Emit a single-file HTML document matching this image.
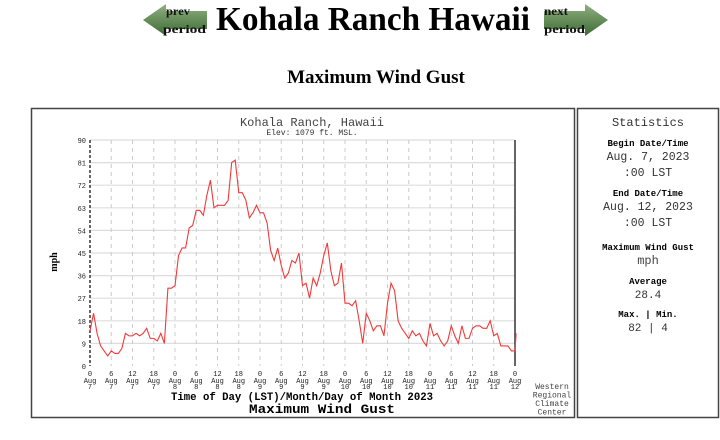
<!DOCTYPE html>
<html><head><meta charset="utf-8"><style>
html,body{margin:0;padding:0;background:#fff;width:720px;height:440px;overflow:hidden}
</style></head><body>
<svg width="720" height="440" viewBox="0 0 720 440" xmlns="http://www.w3.org/2000/svg">
<defs><linearGradient id="ag" x1="0" y1="0" x2="0" y2="1"><stop offset="0" stop-color="#8fb080"/><stop offset="1" stop-color="#3d6a35"/></linearGradient></defs>
<!-- arrows -->
<polygon points="143,20 166,4 166,11 207,11 207,29 166,29 166,36" fill="url(#ag)"/>
<text x="166" y="15" font-family="Liberation Serif,serif" font-size="12" font-weight="bold" fill="#111" textLength="24" lengthAdjust="spacingAndGlyphs">prev</text>
<text x="163" y="33" font-family="Liberation Serif,serif" font-size="12" font-weight="bold" fill="#111" textLength="43" lengthAdjust="spacingAndGlyphs">period</text>
<polygon points="608,20 585,4 585,11 544,11 544,29 585,29 585,36" fill="url(#ag)"/>
<text x="544" y="15" font-family="Liberation Serif,serif" font-size="12" font-weight="bold" fill="#111" textLength="24" lengthAdjust="spacingAndGlyphs">next</text>
<text x="544" y="33" font-family="Liberation Serif,serif" font-size="12" font-weight="bold" fill="#111" textLength="41" lengthAdjust="spacingAndGlyphs">period</text>
<text x="373" y="30" text-anchor="middle" font-family="Liberation Serif,serif" font-size="34" font-weight="bold" textLength="314" lengthAdjust="spacingAndGlyphs">Kohala Ranch Hawaii</text>
<text x="376" y="83" text-anchor="middle" font-family="Liberation Serif,serif" font-size="19" font-weight="bold">Maximum Wind Gust</text>
<!-- boxes -->
<rect x="31.5" y="108.5" width="543" height="309" fill="none" stroke="#444" stroke-width="1.5"/>
<rect x="577.5" y="108.5" width="141" height="309" fill="none" stroke="#444" stroke-width="1.5"/>
<!-- chart title -->
<text x="312" y="126" text-anchor="middle" font-family="Liberation Mono,monospace" font-size="12" fill="#444">Kohala Ranch, Hawaii</text>
<text x="312" y="135" text-anchor="middle" font-family="Liberation Mono,monospace" font-size="8" fill="#333">Elev: 1079 ft. MSL.</text>
<!-- grid -->
<g stroke="#ddd" stroke-width="1.2">
<line x1="90" x2="515" y1="140" y2="140"/><line x1="90" x2="515" y1="162.6" y2="162.6"/><line x1="90" x2="515" y1="185.2" y2="185.2"/><line x1="90" x2="515" y1="207.8" y2="207.8"/><line x1="90" x2="515" y1="230.4" y2="230.4"/><line x1="90" x2="515" y1="253" y2="253"/><line x1="90" x2="515" y1="275.6" y2="275.6"/><line x1="90" x2="515" y1="298.2" y2="298.2"/><line x1="90" x2="515" y1="320.8" y2="320.8"/><line x1="90" x2="515" y1="343.4" y2="343.4"/>
</g>
<g stroke="#ccc" stroke-width="1" stroke-dasharray="4,4">
<line x1="111.25" x2="111.25" y1="140" y2="366"/><line x1="132.5" x2="132.5" y1="140" y2="366"/><line x1="153.75" x2="153.75" y1="140" y2="366"/><line x1="175" x2="175" y1="140" y2="366"/><line x1="196.25" x2="196.25" y1="140" y2="366"/><line x1="217.5" x2="217.5" y1="140" y2="366"/><line x1="238.75" x2="238.75" y1="140" y2="366"/><line x1="260" x2="260" y1="140" y2="366"/><line x1="281.25" x2="281.25" y1="140" y2="366"/><line x1="302.5" x2="302.5" y1="140" y2="366"/><line x1="323.75" x2="323.75" y1="140" y2="366"/><line x1="345" x2="345" y1="140" y2="366"/><line x1="366.25" x2="366.25" y1="140" y2="366"/><line x1="387.5" x2="387.5" y1="140" y2="366"/><line x1="408.75" x2="408.75" y1="140" y2="366"/><line x1="430" x2="430" y1="140" y2="366"/><line x1="451.25" x2="451.25" y1="140" y2="366"/><line x1="472.5" x2="472.5" y1="140" y2="366"/><line x1="493.75" x2="493.75" y1="140" y2="366"/>
</g>
<line x1="90" x2="90" y1="140" y2="366" stroke="#333" stroke-width="1.5" stroke-dasharray="3,2"/>
<line x1="515" x2="515" y1="140" y2="366" stroke="#333" stroke-width="1.5"/>
<!-- y labels -->
<g font-family="Liberation Mono,monospace" font-size="7" fill="#222" text-anchor="end">
<text x="86" y="143">90</text><text x="86" y="165.6">81</text><text x="86" y="188.2">72</text><text x="86" y="210.8">63</text><text x="86" y="233.4">54</text><text x="86" y="256">45</text><text x="86" y="278.6">36</text><text x="86" y="301.2">27</text><text x="86" y="323.8">18</text><text x="86" y="346.4">9</text><text x="86" y="369">0</text>
</g>
<text transform="translate(57,262) rotate(-90)" text-anchor="middle" font-family="Liberation Serif,serif" font-size="10" font-weight="bold">mph</text>
<!-- x labels -->
<g font-family="Liberation Mono,monospace" font-size="7" fill="#222" text-anchor="middle">
<text x="90" y="376">0</text><text x="90" y="383">Aug</text><text x="90" y="389">7</text>
<text x="111.25" y="376">6</text><text x="111.25" y="383">Aug</text><text x="111.25" y="389">7</text>
<text x="132.5" y="376">12</text><text x="132.5" y="383">Aug</text><text x="132.5" y="389">7</text>
<text x="153.75" y="376">18</text><text x="153.75" y="383">Aug</text><text x="153.75" y="389">7</text>
<text x="175" y="376">0</text><text x="175" y="383">Aug</text><text x="175" y="389">8</text>
<text x="196.25" y="376">6</text><text x="196.25" y="383">Aug</text><text x="196.25" y="389">8</text>
<text x="217.5" y="376">12</text><text x="217.5" y="383">Aug</text><text x="217.5" y="389">8</text>
<text x="238.75" y="376">18</text><text x="238.75" y="383">Aug</text><text x="238.75" y="389">8</text>
<text x="260" y="376">0</text><text x="260" y="383">Aug</text><text x="260" y="389">9</text>
<text x="281.25" y="376">6</text><text x="281.25" y="383">Aug</text><text x="281.25" y="389">9</text>
<text x="302.5" y="376">12</text><text x="302.5" y="383">Aug</text><text x="302.5" y="389">9</text>
<text x="323.75" y="376">18</text><text x="323.75" y="383">Aug</text><text x="323.75" y="389">9</text>
<text x="345" y="376">0</text><text x="345" y="383">Aug</text><text x="345" y="389">10</text>
<text x="366.25" y="376">6</text><text x="366.25" y="383">Aug</text><text x="366.25" y="389">10</text>
<text x="387.5" y="376">12</text><text x="387.5" y="383">Aug</text><text x="387.5" y="389">10</text>
<text x="408.75" y="376">18</text><text x="408.75" y="383">Aug</text><text x="408.75" y="389">10</text>
<text x="430" y="376">0</text><text x="430" y="383">Aug</text><text x="430" y="389">11</text>
<text x="451.25" y="376">6</text><text x="451.25" y="383">Aug</text><text x="451.25" y="389">11</text>
<text x="472.5" y="376">12</text><text x="472.5" y="383">Aug</text><text x="472.5" y="389">11</text>
<text x="493.75" y="376">18</text><text x="493.75" y="383">Aug</text><text x="493.75" y="389">11</text>
<text x="515" y="376">0</text><text x="515" y="383">Aug</text><text x="515" y="389">12</text>
</g>
<text x="302" y="400" text-anchor="middle" font-family="Liberation Mono,monospace" font-size="11" font-weight="bold" textLength="262" lengthAdjust="spacingAndGlyphs">Time of Day (LST)/Month/Day of Month 2023</text>
<text x="322" y="413" text-anchor="middle" font-family="Liberation Mono,monospace" font-size="13" font-weight="bold" textLength="146" lengthAdjust="spacingAndGlyphs">Maximum Wind Gust</text>
<g font-family="Liberation Mono,monospace" font-size="8" fill="#444" text-anchor="middle">
<text x="552" y="389">Western</text><text x="552" y="397.5">Regional</text><text x="552" y="406">Climate</text><text x="552" y="414.5">Center</text>
</g>
<!-- data -->
<g transform="translate(90,366) scale(3.5417,-2.5111)">
<polyline fill="none" stroke="#f03a3a" stroke-width="1.1" vector-effect="non-scaling-stroke" points="0,14 1,21 2,13 3,8 4,6 5,4 6,6 7,5 8,5 9,7 10,13 11,12 12,12 13,13 14,12 15,13 16,15 17,11 18,11 19,10 20,13 21,9 22,31 23,31 24,32 25,44 26,47 27,47 28,55 29,56 30,62 31,62 32,60 33,68 34,74 35,63 36,64 37,64 38,64 39,66 40,81 41,82 42,69 43,69 44,66 45,59 46,61 47,64 48,61 49,61 50,57 51,46 52,42 53,47 54,40 55,35 56,37 57,42 58,41 59,45 60,32 61,33 62,27 63,35 64,32 65,37 66,44 67,49 68,38 69,32 70,33 71,41 72,25 73,25 74,24 75,26 76,18 77,9 78,21 79,18 80,14 81,16 82,16 83,12 84,25 85,33 86,30 87,18 88,15 89,13 90,11 91,14 92,12 93,13 94,10 95,8 96,17 97,12 98,13 99,10 100,8 101,10 102,16 103,12 104,9 105,16 106,11 107,11 108,15 109,16 110,16 111,15 112,15 113,18 114,12 115,13 116,8 117,8 118,8 119,6 120,6 120.3,13"/>
</g>
<!-- statistics -->
<g font-family="Liberation Mono,monospace" text-anchor="middle">
<text x="648" y="126" font-size="12" fill="#333">Statistics</text>
<text x="648" y="146" font-size="9" font-weight="bold">Begin Date/Time</text>
<text x="648" y="160" font-size="11.5" fill="#333">Aug. 7, 2023</text>
<text x="648" y="176" font-size="11.5" fill="#333">:00 LST</text>
<text x="648" y="196" font-size="9" font-weight="bold">End Date/Time</text>
<text x="648" y="210" font-size="11.5" fill="#333">Aug. 12, 2023</text>
<text x="648" y="226" font-size="11.5" fill="#333">:00 LST</text>
<text x="648" y="250" font-size="9" font-weight="bold">Maximum Wind Gust</text>
<text x="648" y="264" font-size="12" fill="#444">mph</text>
<text x="648" y="284" font-size="9" font-weight="bold">Average</text>
<text x="648" y="298" font-size="11" fill="#333">28.4</text>
<text x="648" y="317" font-size="9" font-weight="bold">Max. | Min.</text>
<text x="648" y="331" font-size="11" fill="#333">82 | 4</text>
</g>
</svg>
</body></html>
